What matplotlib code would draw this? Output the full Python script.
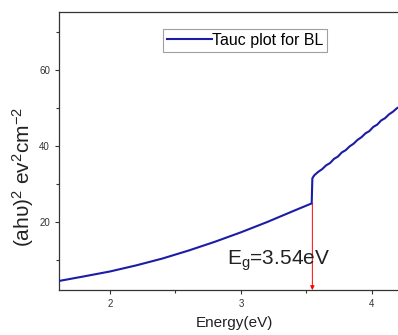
import matplotlib
matplotlib.use("Agg")
import matplotlib.pyplot as plt

plt.rcParams['font.family'] = ['Liberation Sans', 'DejaVu Sans']
plt.rcParams['mathtext.default'] = 'regular'

# Tauc plot data: energy (eV) vs (ahv)^2
energy = [1.61, 1.8, 2.0, 2.2, 2.4, 2.6, 2.8, 3.0, 3.2, 3.4, 3.54,
          3.545, 3.56, 3.59, 3.62, 3.65, 3.68, 3.71, 3.74, 3.77, 3.80,
          3.83, 3.86, 3.89, 3.92, 3.95, 3.98, 4.01, 4.04, 4.07, 4.10,
          4.13, 4.16, 4.19, 4.22, 4.25, 4.28]
tauc = [4.6, 5.8, 7.1, 8.7, 10.5, 12.6, 14.9, 17.4, 20.1, 23.0, 25.0,
        31.6, 32.4, 33.3, 34.0, 35.0, 35.6, 36.7, 37.3, 38.4, 39.0,
        40.0, 40.7, 41.7, 42.4, 43.4, 44.0, 45.1, 45.7, 46.8, 47.4,
        48.4, 49.1, 50.0, 50.6, 51.3, 52.0]

eg = 3.545
eg_y = 25.0
eg_label = 'E$_g$=3.54eV'
legend_label = 'Tauc plot for BL'

fig = plt.figure(figsize=(3.98, 3.35), dpi=100)
ax = fig.add_axes([0.148, 0.134, 0.882, 0.830])

ax.plot(energy, tauc, color='#1c1ca6', lw=1.5, label=legend_label, zorder=3)
ax.annotate('', xy=(eg, 2.2), xytext=(eg, eg_y),
            arrowprops=dict(arrowstyle='-|>', color='red', lw=0.7,
                            mutation_scale=6, shrinkA=0, shrinkB=0),
            zorder=2)
ax.text(2.89, 8.8, eg_label, fontsize=15, color='#222222')

ax.set_xlim(1.61, 4.29)
ax.set_ylim(2.2, 75.3)
ax.set_xticks([2, 3, 4])
ax.set_xticks([2.5, 3.5], minor=True)
ax.set_yticks([20, 40, 60])
ax.set_yticks([10, 30, 50, 70], minor=True)

for s in ax.spines.values():
    s.set_color('#333333')
    s.set_linewidth(0.9)
ax.spines['right'].set_visible(False)
ax.tick_params(direction='out', length=3, width=0.8, labelsize=7,
               colors='#333333', labelcolor='#333333')
ax.tick_params(which='minor', direction='out', length=2, width=0.8,
               colors='#333333')

ax.set_xlabel('Energy(eV)', fontsize=11, color='#222222', labelpad=5)
ax.set_ylabel('(ah\u03c5)$^2$ ev$^2$cm$^{-2}$', fontsize=15,
              color='#222222')
ax.yaxis.set_label_coords(-0.066, 0.406)

leg = ax.legend(loc='upper left', bbox_to_anchor=(0.296, 0.939), fontsize=11.5,
                frameon=True, fancybox=False, handlelength=2.8,
                handletextpad=0.0, borderpad=0.25, borderaxespad=0)
leg.get_frame().set_edgecolor('#888888')
leg.get_frame().set_linewidth(0.8)

fig.savefig('out.png', dpi=100)
